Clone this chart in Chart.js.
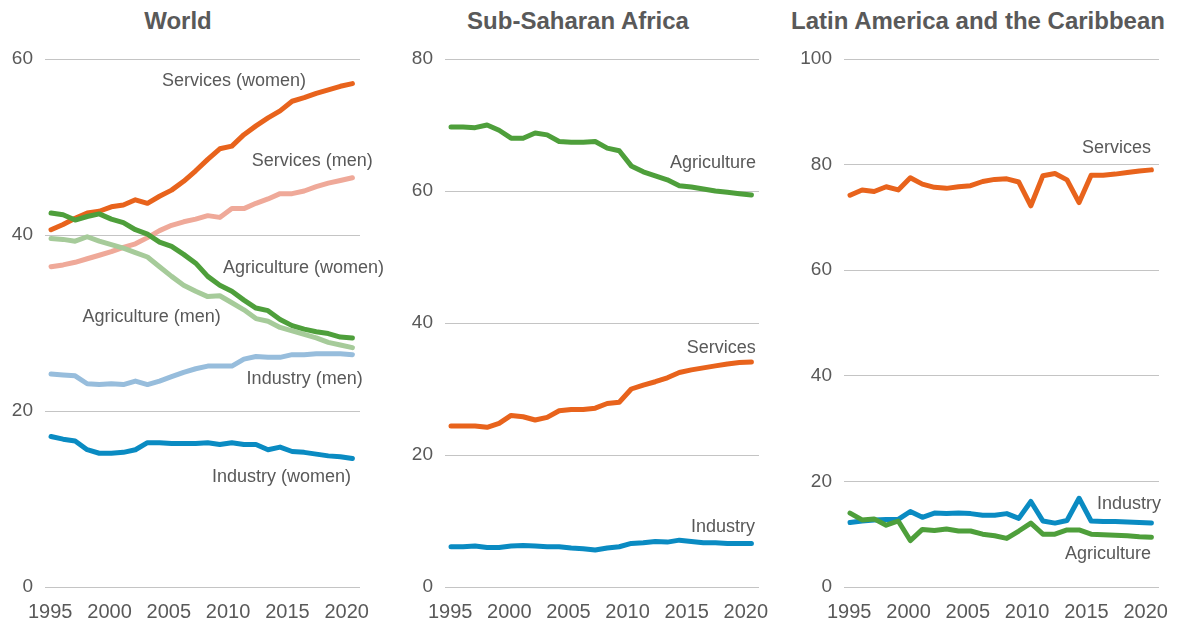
<!DOCTYPE html>
<html>
<head>
<meta charset="utf-8">
<script src="https://cdn.jsdelivr.net/npm/chart.js@4.4.0/dist/chart.umd.min.js"></script>
<style>
  body { margin: 0; background: #fff; width: 1183px; height: 628px; overflow: hidden; position: relative; }
  .panel { position: absolute; top: 0; height: 628px; }
  .title { position: absolute; top: 9px; width: 420px; text-align: center;
           font: bold 24px/24px "Liberation Sans", Arial, sans-serif; color: #595959; }
</style>
</head>
<body>
<div class="title" style="left:-32px">World</div>
<div class="title" style="left:368px">Sub-Saharan Africa</div>
<div class="title" style="left:768px">Latin America and the Caribbean</div>
<div class="panel" style="left:0;width:390px"><canvas id="world"></canvas></div>
<div class="panel" style="left:400px;width:390px"><canvas id="ssa"></canvas></div>
<div class="panel" style="left:790px;width:393px"><canvas id="lac"></canvas></div>
<script>
const years = [1995, 1996, 1997, 1998, 1999, 2000, 2001, 2002, 2003, 2004, 2005, 2006, 2007,
  2008, 2009, 2010, 2011, 2012, 2013, 2014, 2015, 2016, 2017, 2018, 2019, 2020];
const tickYears = [1995, 2000, 2005, 2010, 2015, 2020];

// World, share of employment (%)
const servicesWomen = [40.6, 41.2, 41.9, 42.5, 42.7, 43.2, 43.4, 44.0, 43.6, 44.4, 45.1, 46.1, 47.3,
  48.6, 49.8, 50.1, 51.4, 52.4, 53.3, 54.1, 55.2, 55.6, 56.1, 56.5, 56.9, 57.2];
const servicesMen = [36.4, 36.6, 36.9, 37.3, 37.7, 38.1, 38.6, 39.0, 39.7, 40.5, 41.1, 41.5, 41.8,
  42.2, 42.0, 43.0, 43.0, 43.6, 44.1, 44.7, 44.7, 45.0, 45.5, 45.9, 46.2, 46.5];
const agricultureWomen = [42.5, 42.3, 41.7, 42.1, 42.4, 41.8, 41.4, 40.6, 40.1, 39.2, 38.7, 37.8, 36.8,
  35.3, 34.3, 33.6, 32.6, 31.7, 31.4, 30.4, 29.7, 29.3, 29.0, 28.8, 28.4, 28.3];
const agricultureMen = [39.6, 39.5, 39.3, 39.8, 39.3, 38.9, 38.5, 38.0, 37.5, 36.4, 35.3, 34.3, 33.6,
  33.0, 33.1, 32.3, 31.5, 30.5, 30.2, 29.5, 29.1, 28.7, 28.3, 27.8, 27.5, 27.2];
const industryMen = [24.2, 24.1, 24.0, 23.1, 23.0, 23.1, 23.0, 23.4, 23.0, 23.4, 23.9, 24.4, 24.8,
  25.1, 25.1, 25.1, 25.9, 26.2, 26.1, 26.1, 26.4, 26.4, 26.5, 26.5, 26.5, 26.4];
const industryWomen = [17.1, 16.8, 16.6, 15.6, 15.2, 15.2, 15.3, 15.6, 16.4, 16.4, 16.3, 16.3, 16.3,
  16.4, 16.2, 16.4, 16.2, 16.2, 15.6, 15.9, 15.4, 15.3, 15.1, 14.9, 14.8, 14.6];

// Sub-Saharan Africa
const ssaAgriculture = [69.7, 69.7, 69.6, 70.0, 69.2, 68.0, 68.0, 68.8, 68.5, 67.5, 67.4, 67.4, 67.5,
  66.5, 66.1, 63.8, 62.9, 62.3, 61.7, 60.8, 60.6, 60.3, 60.0, 59.8, 59.6, 59.4];
const ssaServices = [24.4, 24.4, 24.4, 24.2, 24.8, 26.0, 25.8, 25.3, 25.7, 26.7, 26.9, 26.9, 27.1,
  27.8, 28.0, 30.0, 30.6, 31.1, 31.7, 32.5, 32.9, 33.2, 33.5, 33.8, 34.0, 34.1];
const ssaIndustry = [6.1, 6.1, 6.2, 6.0, 6.0, 6.2, 6.3, 6.2, 6.1, 6.1, 5.9, 5.8, 5.6,
  5.9, 6.1, 6.6, 6.7, 6.9, 6.8, 7.1, 6.9, 6.7, 6.7, 6.6, 6.6, 6.6];

// Latin America and the Caribbean
const lacServices = [74.2, 75.2, 74.9, 75.8, 75.2, 77.5, 76.3, 75.7, 75.5, 75.8, 76.0, 76.8, 77.2,
  77.3, 76.7, 72.2, 77.9, 78.3, 77.1, 72.8, 78.0, 78.0, 78.2, 78.5, 78.8, 79.0];
const lacIndustry = [12.2, 12.5, 12.7, 12.8, 12.8, 14.3, 13.2, 14.0, 13.9, 14.0, 13.9, 13.6, 13.6,
  13.9, 13.0, 16.2, 12.5, 12.1, 12.6, 16.8, 12.5, 12.4, 12.4, 12.3, 12.2, 12.1];
const lacAgriculture = [14.0, 12.7, 12.9, 11.7, 12.5, 8.8, 10.9, 10.7, 11.0, 10.6, 10.6, 10.0, 9.7,
  9.2, 10.6, 12.1, 10.0, 10.0, 10.8, 10.8, 10.0, 9.9, 9.8, 9.7, 9.5, 9.4];

const ORANGE = '#E8631C', SALMON = '#EFA999';
const GREEN = '#4E9F3B', PALE_GREEN = '#A6CB9A';
const BLUE = '#0A8BC2', PALE_BLUE = '#97BDDC';
const TEXT = '#595959';
const FONT = '"Liberation Sans", Arial, sans-serif';

// draws the series names next to the lines, anchored in data units
const lineLabels = {
  id: 'lineLabels',
  afterDatasetsDraw(chart, args, opts) {
    const { ctx, scales } = chart;
    ctx.save();
    ctx.font = '18px ' + FONT;
    ctx.fillStyle = TEXT;
    ctx.textAlign = 'right';
    ctx.textBaseline = 'alphabetic';
    (opts.items || []).forEach(l => {
      ctx.fillText(l.text, scales.x.getPixelForValue(l.year), scales.y.getPixelForValue(l.value));
    });
    ctx.restore();
  }
};

function series(values, color) {
  return {
    data: values.map((v, i) => ({ x: years[i], y: v })),
    borderColor: color,
    borderWidth: 5,
    borderCapStyle: 'round',
    borderJoinStyle: 'round',
    pointRadius: 0,
    tension: 0,
    fill: false
  };
}

function makePanel(id, datasets, yMax, yWidth, padRight, labels) {
  return new Chart(document.getElementById(id), {
    type: 'line',
    data: { datasets },
    plugins: [lineLabels],
    options: {
      responsive: true,
      maintainAspectRatio: false,
      animation: false,
      layout: { padding: { top: 59, right: padRight, bottom: 0, left: 0 } },
      plugins: {
        legend: { display: false },
        tooltip: { enabled: false },
        lineLabels: { items: labels }
      },
      scales: {
        x: { type: 'linear', display: false, min: 1994.5, max: 2020.63 },
        xl: {
          type: 'linear', position: 'bottom', min: 1994.56, max: 2021.12,
          grid: { display: false },
          border: { display: false },
          afterBuildTicks: s => { s.ticks = tickYears.map(v => ({ value: v })); },
          afterFit: s => { s.height = 41; },
          ticks: { color: TEXT, font: { family: FONT, size: 20 }, padding: 5,
                   maxRotation: 0, autoSkip: false, callback: v => String(v) }
        },
        y: {
          min: 0, max: yMax,
          grid: { color: '#c4c4c4', lineWidth: 1, drawTicks: false },
          border: { display: false },
          afterFit: s => { s.width = yWidth; },
          ticks: { stepSize: 20, color: TEXT, font: { family: FONT, size: 19 }, padding: 12 }
        }
      }
    }
  });
}

makePanel('world', [
  series(agricultureWomen, GREEN),
  series(servicesWomen, ORANGE),
  series(industryWomen, BLUE),
  series(agricultureMen, PALE_GREEN),
  series(servicesMen, SALMON),
  series(industryMen, PALE_BLUE)
], 60, 45, 30, [
  { text: 'Services (women)', year: 2016.15, value: 56.93 },
  { text: 'Services (men)', year: 2021.68, value: 47.84 },
  { text: 'Agriculture (women)', year: 2022.62, value: 35.68 },
  { text: 'Agriculture (men)', year: 2009.07, value: 30.11 },
  { text: 'Industry (men)', year: 2020.85, value: 23.07 },
  { text: 'Industry (women)', year: 2019.88, value: 11.97 }
]);

makePanel('ssa', [
  series(ssaAgriculture, GREEN),
  series(ssaServices, ORANGE),
  series(ssaIndustry, BLUE)
], 80, 45, 31, [
  { text: 'Agriculture', year: 2020.38, value: 63.44 },
  { text: 'Services', year: 2020.36, value: 35.41 },
  { text: 'Industry', year: 2020.30, value: 8.29 }
]);

makePanel('lac', [
  series(lacAgriculture, GREEN),
  series(lacServices, ORANGE),
  series(lacIndustry, BLUE)
], 100, 54, 24, [
  { text: 'Services', year: 2019.97, value: 82.25 },
  { text: 'Industry', year: 2020.8, value: 14.72 },
  { text: 'Agriculture', year: 2019.97, value: 5.25 }
]);
</script>
</body>
</html>
